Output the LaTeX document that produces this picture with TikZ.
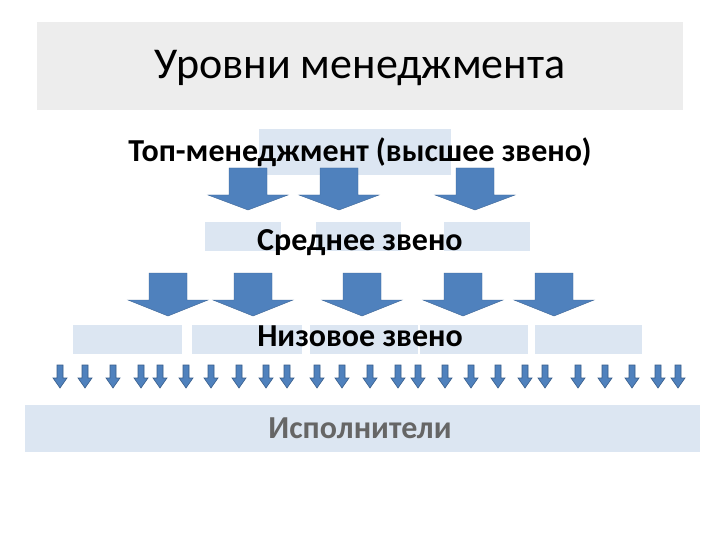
\documentclass[tikz,border=0pt]{standalone}
\usepackage{fontspec}
\setmainfont{Carlito}
\definecolor{boxc}{HTML}{DCE6F2}
\definecolor{arrc}{HTML}{4F81BD}
\definecolor{arrd}{HTML}{385D8A}
\begin{document}
\begin{tikzpicture}[x=1pt,y=-1pt,
  lbox/.style={fill=boxc,draw=none},
  lbl/.style={font=\bfseries\fontsize{32}{36}\selectfont},
  big/.style={fill=arrc,draw=arrc!80!black,line width=0.4pt},
  small/.style={fill=arrc,draw=arrd,line width=0.6pt}]
\useasboundingbox (0,0) rectangle (720,540);
\fill[white] (0,0) rectangle (720,540);
\fill[black!7] (37,22) rectangle (683,110);
\node (title) at (360,68) {\fontsize{44}{48}\selectfont Уровни менеджмента};
\fill[lbox] (259,129) rectangle (451,175);
\foreach \a/\b in {205/281,316/401,444/530} \fill[lbox] (\a,222) rectangle (\b,251);
\foreach \a/\b in {73/182,192/302,310/418,420/528,535/642} \fill[lbox] (\a,325) rectangle (\b,354);
\fill[lbox] (25,405) rectangle (700,452);
\node[lbl] (top) at (360,152) {Топ-менеджмент (высшее звено)};
\node[lbl] (mid) at (360,243) {Среднее звено};
\node[lbl] (low) at (360,336) {Низовое звено};
\node[font=\bfseries\fontsize{32}{36}\selectfont,text=black!60] (exec) at (360,428) {Исполнители};
\foreach \c in {248,339,475}
  \draw[big] (\c-19,168) -- (\c+19,168) -- (\c+19,195) -- (\c+40,195) -- (\c,210) -- (\c-40,195) -- (\c-19,195) -- cycle;
\foreach \c in {168,253,362,463,554}
  \draw[big] (\c-19,273) -- (\c+19,273) -- (\c+19,300) -- (\c+40,300) -- (\c,316) -- (\c-40,300) -- (\c-19,300) -- cycle;
\foreach \c in {60,85,113,141,160,186,211,239,266,287,317,342,370,398,418,445,471,498,525,545,578,605,632,658,678}
  \draw[small] (\c-3,365) -- (\c+3,365) -- (\c+3,378) -- (\c+7,378) -- (\c,388) -- (\c-7,378) -- (\c-3,378) -- cycle;
\end{tikzpicture}
\end{document}
